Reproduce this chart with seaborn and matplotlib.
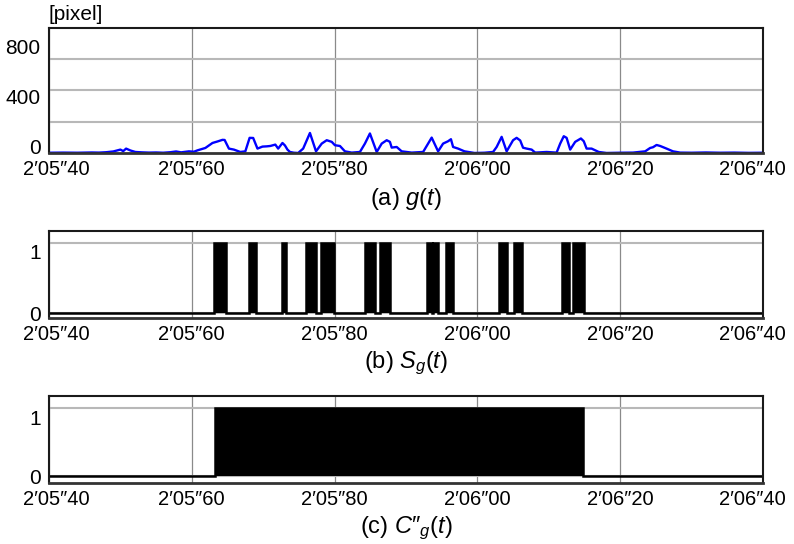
import numpy as np
import matplotlib
matplotlib.use("Agg")
import matplotlib.pyplot as plt
import matplotlib.transforms as mtransforms
import seaborn as sns

# g(t): pixel count
time_g = [40, 42, 44, 46, 47, 48, 49, 50.0, 50.4, 50.8, 51.4, 52.1, 53, 54, 55, 56, 57,
          57.8, 58.5, 59.6, 60.3, 60.8, 61.9, 62.9, 63.6, 64.3, 64.6, 65.2, 65.9, 66.8,
          67.5, 68.1, 68.6, 69.2, 69.9, 70.5, 71.0, 71.7, 72.1, 72.7, 73.05, 73.4, 73.75,
          74.3, 74.9, 75.6, 76.55, 77.4, 78.2, 78.9, 79.6, 80.05, 80.75, 81.45, 82.4,
          83.55, 84.25, 84.95, 85.9, 86.6, 87.3, 87.75, 88.0, 88.7, 89.4, 90.8, 92.4,
          93.1, 93.6, 94.5, 95.2, 95.9, 96.3, 96.6, 97.3, 98.2, 99.6, 101, 102.2, 102.7,
          103.4, 104.1, 105.0, 105.5, 106.0, 106.4, 106.9, 107.6, 108.1, 109.7, 111.1,
          111.6, 112.1, 112.5, 113.0, 113.7, 114.5, 114.9, 115.3, 116.0, 117.0, 118.1,
          120, 121.8, 123.5, 124.2, 124.6, 125.1, 125.6, 126.5, 127.4, 128.4, 130, 132,
          134, 136, 138, 140]
g_values = [2, 3, 2, 4, 3, 6, 12, 27, 15, 35, 20, 8, 5, 3, 4, 2, 6,
            12, 5, 13, 10, 21, 40, 80, 92, 105, 104, 35, 27, 8,
            13, 121, 120, 35, 51, 53, 56, 67, 35, 80, 60, 27, 8,
            2, 0, 35, 160, 13, 75, 102, 89, 62, 56, 13, 3,
            8, 75, 156, 8, 75, 102, 89, 43, 48, 13, 3, 8,
            75, 123, 13, 75, 94, 110, 48, 35, 13, 0, 2, 8, 48,
            129, 13, 102, 121, 100, 42, 35, 27, 3, 8, 3,
            75, 134, 121, 27, 89, 116, 94, 35, 35, 8, 0,
            2, 3, 13, 40, 46, 64, 56, 35, 13, 3, 2, 4,
            2, 3, 1, 2]

# S_g(t): intervals where the signal is 1
sg_start = [63.1, 68.0, 72.6, 75.95, 78.1, 84.3, 86.4, 93.0, 93.8, 95.55, 103.0, 105.1, 111.9, 113.4]
sg_end = [64.8, 69.0, 73.2, 77.35, 79.9, 85.7, 87.8, 93.6, 94.5, 96.6, 104.1, 106.2, 112.8, 114.9]

# C''_g(t): one merged interval
cg_start = [63.2]
cg_end = [114.8]

t_range = (40, 140)
x_ticks = [40, 60, 80, 100, 120, 140]
x_labels = ["2′05″40", "2′05″60", "2′05″80", "2′06″00", "2′06″20", "2′06″40"]
captions = ["(a) $g$($t$)", "(b) $S_g$($t$)", "(c) $C″_g$($t$)"]


def step_series(starts, ends):
    ts, ys = [t_range[0]], [0]
    for s, e in zip(starts, ends):
        ts += [s, s, e, e]
        ys += [0, 1, 1, 0]
    ts.append(t_range[1])
    ys.append(0)
    return ts, ys


sns.set_style("white")
plt.rcParams['font.family'] = ['Liberation Sans', 'DejaVu Sans']
plt.rcParams['mathtext.fontset'] = 'custom'
plt.rcParams['mathtext.rm'] = 'Liberation Sans'
plt.rcParams['mathtext.it'] = 'Liberation Sans:italic'
plt.rcParams['text.color'] = 'black'
plt.rcParams['xtick.color'] = 'black'
plt.rcParams['ytick.color'] = 'black'

fig = plt.figure(figsize=(7.94, 5.44), dpi=100)
ax_a = fig.add_axes([0.0617, 0.7188, 0.8992, 0.2298])
ax_b = fig.add_axes([0.0617, 0.4154, 0.8992, 0.1599])
ax_c = fig.add_axes([0.0617, 0.1121, 0.8992, 0.1599])

hgrid = dict(color='#b8b8b8', linewidth=1.5)

# panel (a)
sns.lineplot(x=time_g, y=g_values, ax=ax_a, color='#0000ff', linewidth=1.7,
             estimator=None, sort=False)
ax_a.set_ylim(0, 1000)
ax_a.set_yticks([0, 400, 800])
ax_a.set_yticks([250, 500, 750], minor=True)
ax_a.grid(True, axis='y', which='minor', **hgrid)
ax_a.text(0, 1.035, "[pixel]", transform=ax_a.transAxes, fontsize=15,
          ha='left', va='bottom')

# panels (b) and (c)
for ax, starts, ends, ylim in [(ax_b, sg_start, sg_end, (-0.07, 1.17)),
                               (ax_c, cg_start, cg_end, (-0.1, 1.18))]:
    ts, ys = step_series(starts, ends)
    ax.fill_between(ts, ys, 0, color='black', linewidth=0)
    sns.lineplot(x=ts, y=ys, ax=ax, color='black', linewidth=1.8,
                 estimator=None, sort=False, solid_joinstyle='miter')
    ax.set_ylim(*ylim)
    ax.set_yticks([0, 1])
    ax.grid(True, axis='y', which='major', **hgrid)

for ax, cap in zip([ax_a, ax_b, ax_c], captions):
    ax.set_xlim(*t_range)
    ax.set_xticks(x_ticks)
    ax.set_xticklabels(x_labels)
    ax.grid(True, axis='x', which='major', color='#8a8a8a', linewidth=0.9)
    ax.set_axisbelow(True)
    ax.tick_params(axis='both', which='both', length=0)
    ax.tick_params(axis='x', labelsize=14.5, pad=5)
    ax.tick_params(axis='y', labelsize=15, pad=6)
    for sp in ax.spines.values():
        sp.set_visible(True)
        sp.set_color('#1a1a1a')
        sp.set_linewidth(1.5)
    ax.spines['bottom'].set_color('#333333')
    ax.spines['bottom'].set_linewidth(2.0)
    ax.set_xlabel("")
    ax.set_ylabel("")
    # end labels sit inside the figure, as in the reference
    xl = ax.get_xticklabels()
    xl[0].set_transform(xl[0].get_transform() +
                        mtransforms.ScaledTranslation(7 / 100, 0, fig.dpi_scale_trans))
    xl[-1].set_transform(xl[-1].get_transform() +
                         mtransforms.ScaledTranslation(-11 / 100, 0, fig.dpi_scale_trans))

# small shifts of the y labels as in the reference
up = mtransforms.ScaledTranslation(0, 5 / 72, fig.dpi_scale_trans)
for lab in ax_a.get_yticklabels():
    lab.set_transform(lab.get_transform() + up)
down = mtransforms.ScaledTranslation(0, -6.5 / 72, fig.dpi_scale_trans)
for ax in [ax_b, ax_c]:
    labs = ax.get_yticklabels()
    labs[1].set_transform(labs[1].get_transform() + down)

cap_y = [1 - 199 / 544, 1 - 363 / 544, 1 - 528 / 544]
for cap, y in zip(captions, cap_y):
    fig.text(0.5113, y, cap, fontsize=17, ha='center', va='center')

plt.savefig("out.png", dpi=100)
